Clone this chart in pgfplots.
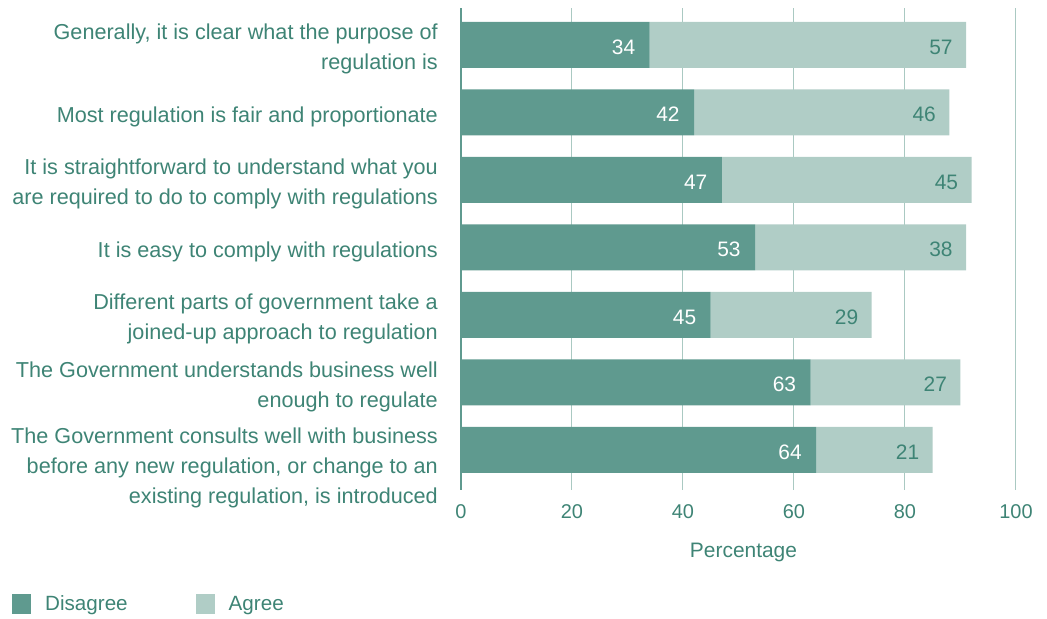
\documentclass[border=0pt]{standalone}
\usepackage{fontspec}
\setmainfont{Liberation Sans}
\usepackage{pgfplots}
\pgfplotsset{compat=1.18}
\definecolor{dis}{HTML}{5F9A8F}
\definecolor{agr}{HTML}{B0CDC6}
\definecolor{txt}{HTML}{3E8475}
\definecolor{gridc}{HTML}{AAC9C2}
\begin{document}
\begin{tikzpicture}
\useasboundingbox (-461bp,-129bp) rectangle (586bp,490bp);
\begin{axis}[
  at={(0,0)}, anchor=south west,
  scale only axis, width=555bp, height=482bp,
  xbar stacked, bar width=46bp,
  xmin=0, xmax=100, ymin=-0.548, ymax=6.593, y dir=reverse,
  axis line style={draw=none},
  major tick length=0pt,
  xmajorgrids, grid style={gridc, line width=1bp},
  xtick={20,40,60,80,100},
  extra x ticks={0},
  extra x tick style={grid style={dis, line width=1.4bp}},
  /pgf/number format/assume math mode=true,
  xticklabel style={anchor=north, inner sep=0pt, yshift=-14bp, font=\fontsize{20}{20}\selectfont, text=txt},
  xlabel={Percentage},
  xlabel style={at={(axis description cs:0.509,0)}, anchor=north, inner sep=0pt, yshift=-52.5bp, font=\fontsize{21}{21}\selectfont, text=txt},
  ytick={0,1,2,3,4,5},
  yticklabels={{Generally, it is clear what the purpose of\\regulation is},
    {Most regulation is fair and proportionate},
    {It is straightforward to understand what you\\are required to do to comply with regulations},
    {It is easy to comply with regulations},
    {Different parts of government take a\\joined-up approach to regulation},
    {The Government understands business well\\enough to regulate}},
  extra y ticks={6},
  extra y tick labels={{The Government consults well with business\\before any new regulation{,} or change to an\\existing regulation{,} is introduced}},
  extra y tick style={yticklabel style={yshift=-14bp}},
  yticklabel style={anchor=east, align=right, inner sep=0pt, xshift=-23bp, yshift=-4bp, font=\fontsize{21.7}{30}\selectfont, text=txt},
  legend columns=2,
  legend image code/.code={\fill[#1] (0bp,-9.5bp) rectangle (19bp,9.5bp);},
  legend style={draw=none, fill=none, at={(axis description cs:-0.809,-0.2365)}, anchor=west,
    font=\fontsize{20.7}{20.7}\selectfont, text=txt, inner sep=0pt,
    nodes={inner sep=0pt},
    /tikz/every odd column/.append style={column sep=14bp},
    /tikz/every even column/.append style={column sep=68bp}},
]
\addplot[fill=dis, draw=none, nodes near coords, point meta=explicit symbolic,
  visualization depends on={rawx \as \rx},
  every node near coord/.append style={anchor=east, xshift={\rx*2.775bp-11bp}, yshift=-2bp, text=white, font=\fontsize{21}{21}\selectfont}]
  coordinates {(34,0) [34] (42,1) [42] (47,2) [47] (53,3) [53] (45,4) [45] (63,5) [63] (64,6) [64]};
\addplot[fill=agr, draw=none, nodes near coords, point meta=explicit symbolic,
  visualization depends on={rawx \as \rx},
  every node near coord/.append style={anchor=east, xshift={\rx*2.775bp-10bp}, yshift=-2bp, text=txt, font=\fontsize{21}{21}\selectfont}]
  coordinates {(57,0) [57] (46,1) [46] (45,2) [45] (38,3) [38] (29,4) [29] (27,5) [27] (21,6) [21]};
\legend{Disagree, Agree}
\end{axis}
\end{tikzpicture}
\end{document}
